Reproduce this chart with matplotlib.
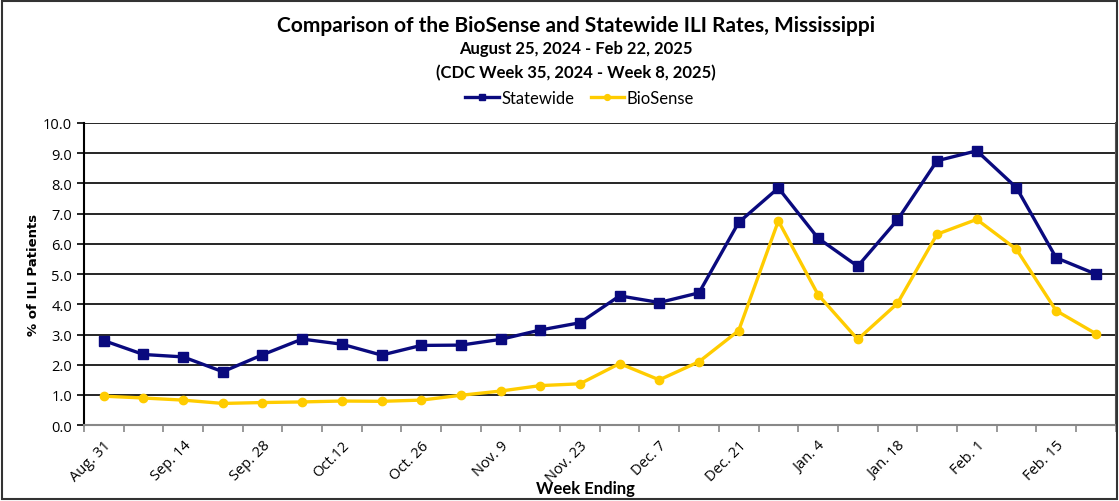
import matplotlib.pyplot as plt
from matplotlib.patches import Rectangle

# semaines (samedi de fin de semaine CDC)
weeks = ["Aug. 31", "Sep. 7", "Sep. 14", "Sep. 21", "Sep. 28", "Oct. 5", "Oct.12",
         "Oct. 19", "Oct. 26", "Nov. 2", "Nov. 9", "Nov. 16", "Nov. 23", "Nov. 30",
         "Dec. 7", "Dec. 14", "Dec. 21", "Dec. 28", "Jan. 4", "Jan. 11", "Jan. 18",
         "Jan. 25", "Feb. 1", "Feb. 8", "Feb. 15", "Feb. 22"]
statewide = [2.80, 2.34, 2.26, 1.77, 2.33, 2.85, 2.68, 2.32, 2.64, 2.65, 2.84, 3.15,
             3.39, 4.28, 4.06, 4.38, 6.71, 7.85, 6.19, 5.26, 6.79, 8.75, 9.08, 7.86,
             5.54, 5.00]
biosense = [0.96, 0.90, 0.83, 0.72, 0.75, 0.77, 0.80, 0.79, 0.83, 0.99, 1.13, 1.31,
            1.37, 2.04, 1.50, 2.10, 3.13, 6.76, 4.32, 2.84, 4.03, 6.32, 6.81, 5.82,
            3.79, 3.03]
yticks = [0.0, 1.0, 2.0, 3.0, 4.0, 5.0, 6.0, 7.0, 8.0, 9.0, 10.0]

NAVY = '#0a0a7e'
GOLD = '#ffcc00'
narrow = ['Lato', 'DejaVu Sans']

fig = plt.figure(figsize=(11.19, 5.02), dpi=100)
ax = fig.add_axes([0.075, 0.151, 0.922, 0.602])

x = list(range(len(weeks)))
ax.plot(x, statewide, color=NAVY, lw=2.4, marker='s', ms=6.5, label='Statewide', zorder=3)
ax.plot(x, biosense, color=GOLD, lw=2.4, marker='o', ms=6, label='BioSense', zorder=3)

ax.set_xlim(-0.5, len(weeks) - 0.5)
ax.set_ylim(0, 10)
ax.set_yticks(yticks)
ax.set_yticklabels([f"{v:.1f}" for v in yticks], fontsize=10.5, family='Open Sans')
ax.yaxis.grid(True, color='black', lw=1.2)
ax.set_axisbelow(True)

# ticks entre categories, etiquettes une semaine sur deux
ax.set_xticks([i - 0.5 for i in range(len(weeks) + 1)])
ax.set_xticklabels([])
ax.tick_params(axis='x', which='major', length=5, color='#888888', width=1.2)
ax.set_xticks(x[::2], minor=True)
ax.set_xticklabels(weeks[::2], minor=True, rotation=45, ha='right',
                   rotation_mode='anchor', fontsize=10.5, family='Open Sans')
ax.tick_params(axis='x', which='minor', length=0, pad=9)
ax.tick_params(axis='y', length=5, width=1.2)

ax.spines['left'].set_linewidth(1.5)
ax.spines['bottom'].set_color('#888888')
ax.spines['bottom'].set_linewidth(1.5)
ax.spines['top'].set_visible(False)
ax.spines['right'].set_color('#555555')
ax.spines['right'].set_linewidth(1.5)

ax.set_ylabel('% of ILI Patients', fontsize=9.5, fontweight='bold', family='DejaVu Sans')
ax.yaxis.set_label_coords(-0.043, 0.5)
ax.set_xlabel('Week Ending', fontsize=12, fontweight='bold', family=narrow)
ax.xaxis.set_label_coords(0.486, -0.18)

fig.text(0.515, 0.948, 'Comparison of the BioSense and Statewide ILI Rates, Mississippi',
         ha='center', va='center', fontsize=15, fontweight='bold', family=narrow)
fig.text(0.515, 0.903, 'August 25, 2024 - Feb 22, 2025',
         ha='center', va='center', fontsize=12, fontweight='bold', family=narrow)
fig.text(0.515, 0.855, '(CDC Week 35, 2024 - Week 8, 2025)',
         ha='center', va='center', fontsize=12, fontweight='bold', family=narrow)

leg = fig.legend(loc='center', bbox_to_anchor=(0.518, 0.803), ncol=2, frameon=False,
                 prop={'family': narrow, 'size': 12}, handlelength=2.0, markerscale=0.7,
                 handletextpad=0.15, columnspacing=1.0)

fig.add_artist(Rectangle((0.002, 0.003), 0.996, 0.993, transform=fig.transFigure,
                         fill=False, ec='#333333', lw=1.5))

fig.savefig('out.png', dpi=100)
